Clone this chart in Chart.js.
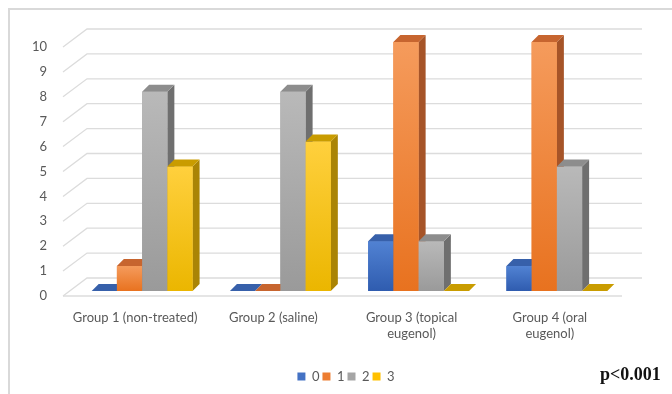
<!DOCTYPE html>
<html>
<head>
<meta charset="utf-8">
<script src="https://cdn.jsdelivr.net/npm/chart.js@4/dist/chart.umd.min.js"></script>
<style>
  html, body { margin: 0; padding: 0; background: #fff; }
  #wrap { position: relative; width: 672px; height: 394px; overflow: hidden; }
  #frame { position: absolute; left: 8px; top: 8px; width: 700px; height: 400px;
           border-top: 2px solid #d9d9d9; border-left: 2px solid #d9d9d9; }
  #c { position: absolute; left: 0; top: 0; }
  #pval { position: absolute; left: 600px; top: 364px; font: bold 18px "Liberation Serif", serif; color: #111; }
</style>
</head>
<body>
<div id="wrap">
  <div id="frame"></div>
  <canvas id="c" width="672" height="394"></canvas>
  <div id="pval">p&lt;0.001</div>
</div>
<script>
// categories and scores (number of animals per score)
const categories = [
  ['Group 1 (non-treated)'],
  ['Group 2 (saline)'],
  ['Group 3 (topical', 'eugenol)'],
  ['Group 4 (oral', 'eugenol)'],
];
const seriesNames = ['0', '1', '2', '3'];
const score0 = [0, 0, 2, 1];
const score1 = [1, 0, 10, 10];
const score2 = [8, 8, 2, 5];
const score3 = [5, 6, 0, 0];
const yTicks = [0, 1, 2, 3, 4, 5, 6, 7, 8, 9, 10];

const baseColors = ['#4472C4', '#ED7D31', '#A5A5A5', '#FFC000'];
// front gradient (top, bottom), top face, side face
const faces = [
  { front: ['#5182d3', '#2f5caf'], top: '#3760aa', side: '#294a87' },
  { front: ['#f59b5c', '#e8721f'], top: '#c7652f', side: '#a65428' },
  { front: ['#b9b9b9', '#9a9a9a'], top: '#8d8d8d', side: '#6f6f6f' },
  { front: ['#ffd03d', '#ebb600'], top: '#c99c00', side: '#aa8405' },
];
const DX = 7, DY = -7;
const FONT = { family: 'Lato', size: 13 };
const TXT = '#595959';

const grid3d = {
  id: 'grid3d',
  beforeDatasetsDraw(chart) {
    const { ctx, chartArea, scales: { y } } = chart;
    ctx.save();
    ctx.strokeStyle = '#dcdcdc';
    ctx.lineWidth = 1.3;
    y.ticks.forEach(t => {
      const yb = y.getPixelForValue(t.value) - 13;
      ctx.beginPath();
      ctx.moveTo(chartArea.left - 10, yb + 18);
      ctx.lineTo(chartArea.left + 14, yb);
      ctx.lineTo(chartArea.right + 16, yb);
      ctx.stroke();
    });
    const yf = y.getPixelForValue(0) + 5;
    ctx.beginPath();
    ctx.moveTo(chartArea.left - 10, yf);
    ctx.lineTo(chartArea.right - 4, yf);
    ctx.stroke();
    ctx.restore();
  }
};

const bars3d = {
  id: 'bars3d',
  afterDatasetsDraw(chart) {
    const ctx = chart.ctx;
    ctx.save();
    chart.data.labels.forEach((_, i) => {
      chart.data.datasets.forEach((ds, d) => {
        const el = chart.getDatasetMeta(d).data[i];
        const { x, y, base, width } = el.getProps(['x', 'y', 'base', 'width'], true);
        const l = x - width / 2, r = x + width / 2;
        const f = faces[d];
        if (base - y > 0.5) {
          ctx.fillStyle = f.side;
          ctx.beginPath();
          ctx.moveTo(r, y); ctx.lineTo(r + DX, y + DY);
          ctx.lineTo(r + DX, base + DY); ctx.lineTo(r, base);
          ctx.closePath(); ctx.fill();
          const g = ctx.createLinearGradient(0, y, 0, base);
          g.addColorStop(0, f.front[0]);
          g.addColorStop(1, f.front[1]);
          ctx.fillStyle = g;
          ctx.fillRect(l, y, r - l, base - y);
        }
        ctx.fillStyle = f.top;
        ctx.beginPath();
        ctx.moveTo(l, y); ctx.lineTo(l + DX, y + DY);
        ctx.lineTo(r + DX, y + DY); ctx.lineTo(r, y);
        ctx.closePath(); ctx.fill();
      });
    });
    ctx.restore();
  }
};

const seriesData = [score0, score1, score2, score3];

new Chart(document.getElementById('c'), {
  type: 'bar',
  data: {
    labels: categories,
    datasets: seriesNames.map((name, i) => ({
      label: name,
      data: seriesData[i],
      backgroundColor: baseColors[i],
      borderWidth: 0,
      barPercentage: 1,
      categoryPercentage: 0.73,
    })),
  },
  options: {
    responsive: false,
    animation: false,
    layout: { padding: { top: 42, right: 0, left: 20, bottom: 1 } },
    plugins: {
      legend: {
        position: 'bottom',
        labels: { boxWidth: 8, boxHeight: 8, padding: 3, font: FONT, color: TXT },
      },
      tooltip: { enabled: false },
    },
    scales: {
      x: {
        grid: { display: false, drawTicks: false },
        border: { display: false },
        ticks: { font: FONT, color: TXT, padding: 19, labelOffset: -7, maxRotation: 0, autoSkip: false },
        afterFit(s) { s.height = 76; },
      },
      y: {
        min: 0,
        max: 10,
        grid: { display: false, drawTicks: false },
        border: { display: false },
        afterBuildTicks(s) { s.ticks = yTicks.map(v => ({ value: v })); },
        ticks: { font: FONT, color: TXT, padding: 26, labelOffset: 5 },
        afterFit(s) { s.width = 53; },
      },
      y2: {
        position: 'right',
        grid: { display: false, drawTicks: false },
        border: { display: false },
        ticks: { display: false },
        afterFit(s) { s.width = 46; },
      },
    },
  },
  plugins: [grid3d, bars3d],
});
</script>
</body>
</html>
